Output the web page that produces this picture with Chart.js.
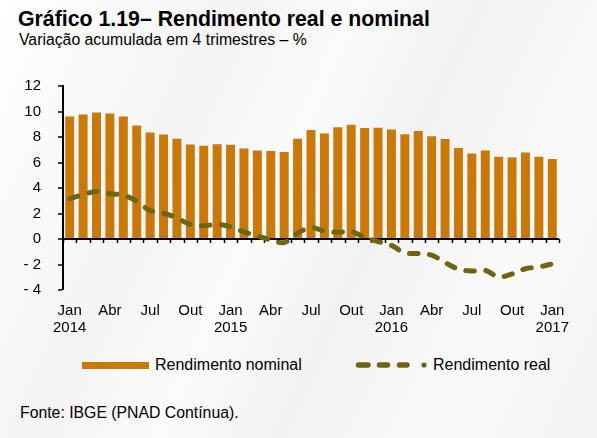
<!DOCTYPE html>
<html>
<head>
<meta charset="utf-8">
<script src="https://cdn.jsdelivr.net/npm/chart.js@4"></script>
<style>
  body {
    margin: 0;
    width: 597px;
    height: 438px;
    position: relative;
    overflow: hidden;
    font-family: "Liberation Sans", Arial, sans-serif;
    color: #000;
    background: linear-gradient(115deg, #ffffff 0%, #f4f4f4 30%, #fbfbfb 45%, #f2f2f2 60%, #fafafa 80%, #f3f3f3 100%);
  }
  .title { position: absolute; left: 18px; top: 7px; font-size: 21.3px; font-weight: bold; }
  .subtitle { position: absolute; left: 19px; top: 31px; font-size: 15.8px; }
  .source { position: absolute; left: 20px; top: 404px; font-size: 15.8px; }
  .legend { position: absolute; top: 356px; font-size: 16px; }
  #chartBox { position: absolute; left: 0; top: 60px; width: 597px; height: 280px; }
</style>
</head>
<body>
<div class="title">Gráfico 1.19– Rendimento real e nominal</div>
<div class="subtitle">Variação acumulada em 4 trimestres – %</div>

<div id="chartBox"><canvas id="myChart"></canvas></div>

<div class="legend" style="left:82px;top:362px;width:67px;height:7px;background:#C8790A"></div>
<div class="legend" style="left:155px">Rendimento nominal</div>
<svg class="legend" style="left:350px;top:358px" width="84" height="14">
  <g stroke="#6E6411" stroke-width="5.5" stroke-linecap="round">
    <line x1="8.5" y1="7" x2="18" y2="7"/>
    <line x1="29.5" y1="7" x2="37.5" y2="7"/>
    <line x1="49.5" y1="7" x2="57" y2="7"/>
  </g>
  <circle cx="74" cy="7" r="2.6" fill="#6E6411"/>
</svg>
<div class="legend" style="left:433px">Rendimento real</div>

<div class="source">Fonte: IBGE (PNAD Contínua).</div>

<script>
var months = ["Jan", "Fev", "Mar", "Abr", "Mai", "Jun", "Jul", "Ago", "Set", "Out", "Nov", "Dez"];
var startYear = 2014;
var tickLabelEvery = 3;

var nominal = [9.6, 9.77, 9.92, 9.85, 9.6, 8.9, 8.35, 8.2, 7.87, 7.41,
               7.31, 7.44, 7.39, 7.1, 6.95, 6.9, 6.83, 7.87, 8.55, 8.27,
               8.76, 8.96, 8.7, 8.73, 8.58, 8.22, 8.48, 8.05, 7.84, 7.13,
               6.7, 6.95, 6.45, 6.4, 6.78, 6.45, 6.27];

var real = [3.17, 3.48, 3.73, 3.55, 3.43, 2.97, 2.23, 2.03, 1.65, 1.14,
            1.04, 1.14, 0.96, 0.56, 0.25, -0.08, -0.28, 0.45, 0.89, 0.63,
            0.53, 0.58, 0.13, -0.2, -0.5, -1.09, -1.14, -1.27, -1.85, -2.36,
            -2.51, -2.46, -2.97, -2.74, -2.33, -2.2, -1.95];

var categories = nominal.map(function(v, i) {
  var m = i % 12;
  var label = months[m];
  if (m == 0) return [label, String(startYear + Math.floor(i / 12))];
  return [label, ""];
});

// little tick marks under the zero line, between the bars
var axisTicks = {
  id: "axisTicks",
  beforeDatasetsDraw: function(chart) {
    var x = chart.scales.x, y = chart.scales.y;
    var ctx = chart.ctx;
    var y0 = y.getPixelForValue(0);
    var half = (x.getPixelForValue(1) - x.getPixelForValue(0)) / 2;
    ctx.save();
    ctx.strokeStyle = "#000";
    ctx.lineWidth = 1.5;
    ctx.beginPath();
    for (var i = 0; i <= categories.length; i++) {
      var px = Math.round(x.getPixelForValue(i) - half) + 0.5;
      ctx.moveTo(px, y0);
      ctx.lineTo(px, y0 + 4);
    }
    ctx.stroke();
    ctx.restore();
  }
};

var ctx = document.getElementById("myChart");
new Chart(ctx, {
  type: "bar",
  data: {
    labels: categories,
    datasets: [
      {
        type: "line",
        label: "Rendimento real",
        data: real,
        borderColor: "#6E6411",
        borderWidth: 5,
        borderDash: [8.5, 11.5],
        borderCapStyle: "round",
        tension: 0.35,
        pointRadius: 0,
        fill: false,
        order: 0
      },
      {
        label: "Rendimento nominal",
        data: nominal,
        backgroundColor: "#C8790A",
        barPercentage: 0.67,
        categoryPercentage: 1,
        order: 1
      }
    ]
  },
  options: {
    responsive: true,
    maintainAspectRatio: false,
    animation: false,
    layout: { padding: { top: 19, right: 38, left: 0, bottom: 0 } },
    plugins: { legend: { display: false }, tooltip: { enabled: false } },
    scales: {
      x: {
        border: { display: false },
        grid: { display: false, drawTicks: false },
        afterFit: function(scale) { scale.height = 50; },
        ticks: {
          autoSkip: false,
          maxRotation: 0,
          padding: 12,
          color: "#000",
          font: { family: "Liberation Sans, Arial", size: 15, lineHeight: 1.13 },
          callback: function(value, index) {
            return index % tickLabelEvery == 0 ? categories[index] : "";
          }
        }
      },
      y: {
        min: -4,
        max: 12,
        afterFit: function(scale) { scale.width = 63; },
        border: { display: true, color: "#000", width: 2 },
        grid: {
          drawOnChartArea: true,
          tickLength: 5,
          tickColor: "#000",
          tickWidth: 1.5,
          lineWidth: function(c) { return c.tick && c.tick.value == 0 ? 2 : 0; },
          color: function(c) { return c.tick && c.tick.value == 0 ? "#000" : "rgba(0,0,0,0)"; }
        },
        ticks: {
          stepSize: 2,
          padding: 17,
          color: "#000",
          font: { family: "Liberation Sans, Arial", size: 15 },
          callback: function(v) { return v < 0 ? "- " + Math.abs(v) : String(v); }
        }
      }
    }
  },
  plugins: [axisTicks]
});
</script>
</body>
</html>
